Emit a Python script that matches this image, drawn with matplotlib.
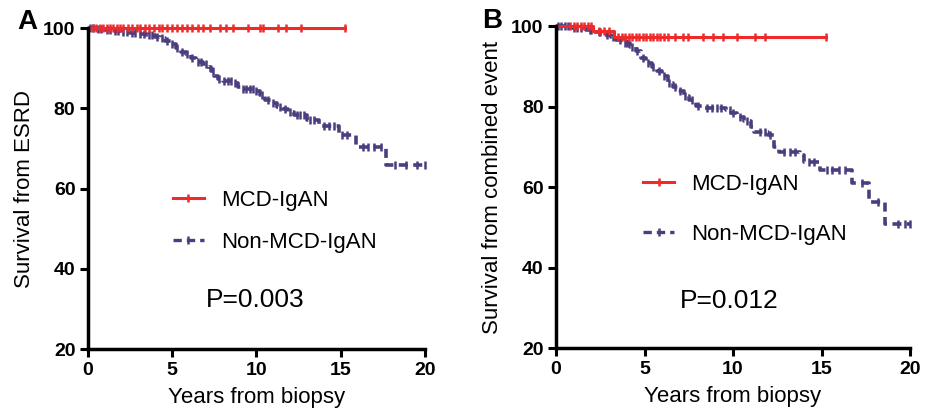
import numpy as np
import matplotlib
matplotlib.use('Agg')
import matplotlib.pyplot as plt
from matplotlib.lines import Line2D

plt.rcParams['font.family'] = ['Liberation Sans', 'DejaVu Sans']

red = '#EE2A2A'
purple = '#4B3D7E'

# ---------------- data (Kaplan-Meier steps, %) ----------------
# Panel A: survival from ESRD
a_mcd_t = [0, 15.27]
a_mcd_s = [100, 100]
a_mcd_cens = [0.3, 0.5, 0.7, 0.9, 1.1, 1.3, 1.5, 1.7, 1.9, 2.1, 2.4, 2.6, 2.9, 3.1, 3.4, 3.6,
              3.9, 4.2, 4.4, 4.7, 5.0, 5.3, 5.6, 5.9, 6.2, 6.5, 6.82, 7.22, 7.81, 8.21, 8.6,
              9.5, 10.19, 10.39, 11.28, 11.77, 12.66, 15.27]

a_non_t = [0, 0.5, 1.0, 1.5, 2.0, 2.5, 3.0, 3.5, 4.0, 4.3, 4.6, 4.9, 5.2, 5.5, 5.8, 6.1,
           6.4, 6.8, 7.1, 7.3, 7.5, 7.7, 8.0, 8.6, 8.9, 9.1, 9.9, 10.2, 10.5, 10.9, 11.2,
           11.6, 11.9, 12.2, 13.0, 13.7, 14.9, 15.9, 17.7, 20.0]
a_non_s = [100, 99.8, 99.6, 99.3, 99.0, 98.8, 98.6, 98.3, 97.8, 97.4, 96.8, 96.0, 95.0,
           94.0, 93.5, 92.6, 91.6, 91.0, 90.3, 89.2, 88.0, 87.2, 86.8, 86.3, 85.4, 84.8,
           84.2, 83.3, 82.0, 81.2, 80.4, 79.8, 79.0, 78.3, 77.1, 75.6, 73.3, 70.4, 65.8, 65.8]
a_non_cens = [0.1, 0.3, 0.6, 0.8, 1.1, 1.3, 1.6, 1.8, 2.1, 2.3, 2.6, 2.8, 3.1, 3.3, 3.6,
              3.8, 4.1, 4.4, 4.7, 5.0, 5.3, 5.6, 5.9, 6.2, 6.5, 6.7, 7.0, 7.4, 7.8, 8.1,
              8.3, 8.5, 8.7, 9.2, 9.4, 9.6, 9.8, 10.0, 10.3, 10.7, 11.0, 11.4, 11.7, 12.0,
              12.4, 12.6, 12.8, 13.2, 13.4, 14.0, 14.3, 14.6, 15.1, 15.4, 16.3, 16.6,
              17.0, 17.4, 18.2, 18.9, 19.5, 20.0]

# Panel B: survival from combined event
b_mcd_t = [0, 2.1, 3.3, 15.25]
b_mcd_s = [100, 98.8, 97.2, 97.2]
b_mcd_cens = [0.8, 1.0, 1.2, 1.4, 1.6, 1.8, 2.0, 2.4, 2.7, 3.0, 3.5, 3.7, 3.9, 4.1, 4.3,
              4.5, 4.7, 4.9, 5.1, 5.3, 5.5, 5.7, 5.9, 6.1, 6.3, 6.72, 7.19, 7.48, 8.32,
              8.89, 9.45, 10.2, 11.24, 11.81, 15.25]

b_non_t = [0, 0.8, 1.7, 2.2, 2.7, 3.1, 3.4, 3.8, 4.2, 4.5, 4.8, 5.1, 5.4, 5.7, 6.0, 6.3,
           6.6, 6.9, 7.2, 7.5, 7.9, 8.3, 9.6, 9.9, 10.2, 10.6, 11.0, 11.2, 12.0, 12.3,
           12.6, 13.8, 14.0, 14.9, 16.7, 17.7, 18.6, 20.0]
b_non_s = [100, 99.6, 99.0, 98.4, 97.8, 97.2, 96.6, 95.8, 94.9, 93.8, 92.0, 90.8, 89.8,
           88.8, 87.5, 85.8, 84.8, 83.8, 82.6, 81.6, 80.2, 79.6, 79.2, 78.3, 77.3, 76.3,
           74.8, 73.6, 72.8, 70.0, 68.7, 67.9, 66.2, 64.2, 61.0, 56.4, 50.7, 50.7]
b_non_cens = [0.1, 0.3, 0.5, 0.7, 1.0, 1.2, 1.4, 1.9, 2.0, 2.4, 2.5, 2.9, 3.2, 3.6, 3.9,
              4.0, 4.3, 4.6, 4.9, 5.2, 5.5, 5.8, 6.1, 6.4, 6.7, 7.0, 7.3, 7.7, 8.0, 8.5,
              8.8, 9.1, 9.3, 9.8, 10.0, 10.4, 10.8, 11.5, 11.8, 12.1, 12.9, 13.2, 13.5,
              14.3, 14.6, 15.3, 15.6, 16.0, 16.3, 17.3, 18.2, 19.3, 19.7, 20.0]

xticks = [0, 5, 10, 15, 20]
yticks = [20, 40, 60, 80, 100]
series_labels = ['MCD-IgAN', 'Non-MCD-IgAN']


def km(ax, t, s, cens, color, ls, lw):
    t = np.asarray(t)
    s = np.asarray(s)
    ax.step(t, s, where='post', color=color, lw=lw, linestyle=ls, clip_on=False)
    idx = np.searchsorted(t, cens, side='right') - 1
    ax.plot(cens, s[idx], ls='none', marker='|', ms=5.5, mew=1.8, color=color, clip_on=False)


def style(ax):
    ax.set_xlim(0, 20)
    ax.set_ylim(20, 100)
    for side in ['top', 'right']:
        ax.spines[side].set_visible(False)
    for side in ['left', 'bottom']:
        ax.spines[side].set_linewidth(2.5)
    ax.tick_params(width=2.2, length=6, direction='out', labelsize=14, pad=3)
    ax.set_xticks(xticks, [str(v) for v in xticks], fontweight='bold')
    ax.set_yticks(yticks, [str(v) for v in yticks], fontweight='bold')


dash = (0, (2.5, 1.5))
fig = plt.figure(figsize=(9.33, 4.15), dpi=100)

# ---------------- panel A ----------------
axA = fig.add_axes([0.0943, 0.159, 0.3612, 0.7735])
km(axA, a_non_t, a_non_s, a_non_cens, purple, dash, 2.6)
km(axA, a_mcd_t, a_mcd_s, a_mcd_cens, red, '-', 2.2)
style(axA)
axA.set_xlabel('Years from biopsy', fontsize=16, labelpad=6)
axA.set_ylabel('Survival from ESRD', fontsize=16, labelpad=6)

handles = [Line2D([], [], color=red, lw=2.2, marker='|', ms=5.5, mew=1.8),
           Line2D([], [], color=purple, lw=2.4, ls=dash, marker='|', ms=5.5, mew=1.8)]
axA.legend(handles, series_labels, loc='upper left', bbox_to_anchor=(0.252, 0.495),
           frameon=False, fontsize=16, borderpad=0, borderaxespad=0,
           handlelength=1.4, handletextpad=0.75, labelspacing=0.95, numpoints=1)
axA.text(0.351, 0.153, 'P=0.003', transform=axA.transAxes, fontsize=19, va='center')
fig.text(0.029, 0.947, 'A', fontsize=20, fontweight='bold', ha='center', va='center')

# ---------------- panel B ----------------
axB = fig.add_axes([0.596, 0.1614, 0.3794, 0.7759])
km(axB, b_non_t, b_non_s, b_non_cens, purple, dash, 2.6)
km(axB, b_mcd_t, b_mcd_s, b_mcd_cens, red, '-', 2.2)
style(axB)
axB.set_xlabel('Years from biopsy', fontsize=16, labelpad=6)
axB.set_ylabel('Survival from combined event', fontsize=16, labelpad=6)
axB.legend(handles, series_labels, loc='upper left', bbox_to_anchor=(0.246, 0.54),
           frameon=False, fontsize=16, borderpad=0, borderaxespad=0,
           handlelength=1.4, handletextpad=0.75, labelspacing=1.3, numpoints=1)
axB.text(0.35, 0.145, 'P=0.012', transform=axB.transAxes, fontsize=19, va='center')
fig.text(0.527, 0.95, 'B', fontsize=20, fontweight='bold', ha='center', va='center')

fig.savefig('out.png', dpi=100)
